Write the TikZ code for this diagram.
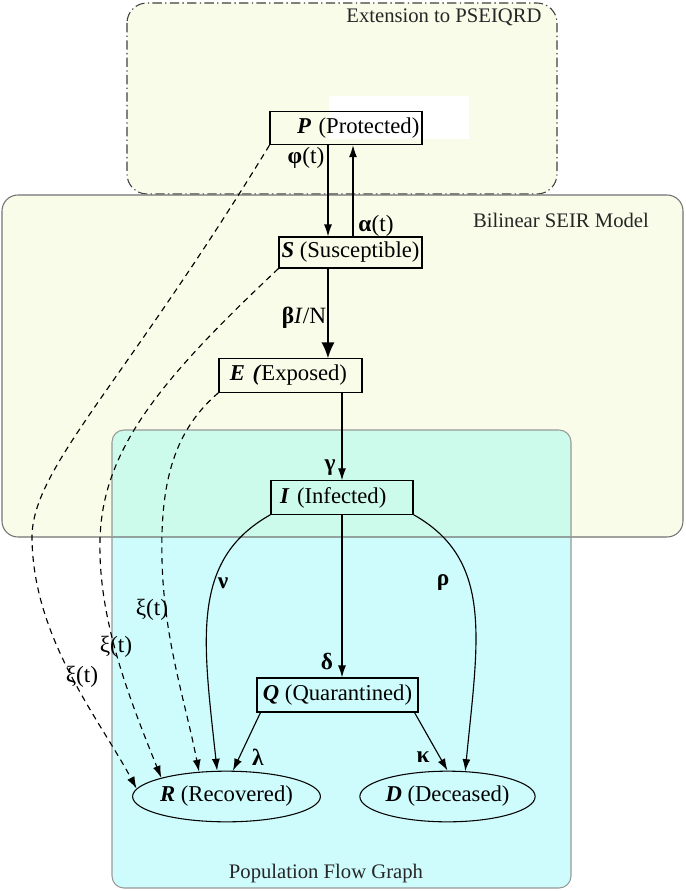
\documentclass[tikz,border=0pt]{standalone}
\usepackage{fontspec}
\setmainfont{Liberation Serif}
\usepackage{tikz}
\usetikzlibrary{shapes.geometric,arrows.meta}
\definecolor{seirfill}{RGB}{248,252,232}
\definecolor{flowfill}{RGB}{206,252,252}
\definecolor{mixfill}{RGB}{204,251,236}
\tikzset{%
  compartment/.style = {shape=rectangle, draw, line width=0.8pt,
    inner ysep=0pt, inner xsep=1.5pt, minimum height=25pt,
    font=\fontsize{17}{20}\selectfont},
  outcome/.style = {shape=ellipse, draw, line width=0.8pt, inner sep=0pt,
    minimum width=128pt, minimum height=38pt,
    font=\fontsize{17}{20}\selectfont},
  flow/.style = {draw, line width=0.85pt, -{Latex[length=9pt,width=6pt]}},
  leak/.style = {flow, dash pattern=on 4.5pt off 3.5pt},
  rate/.style = {font=\fontsize{17.5}{20}\selectfont, inner sep=0pt},
  region/.style = {font=\fontsize{15.5}{19}\selectfont, text=black!85, inner sep=0pt}
}

\begin{document}
\begin{tikzpicture}[x=0.75pt, y=-0.75pt]
  \useasboundingbox (0,0) rectangle (685,891);

  % model regions
  \path[fill=seirfill, draw=black!75, line width=0.8pt,
    dash pattern=on 7pt off 2.5pt on 1pt off 2.5pt, rounded corners=15pt]
    (127,3) rectangle (557,194);
  \path[fill=seirfill, rounded corners=12pt] (2,195) rectangle (683,537);
  \path[fill=flowfill, rounded corners=9pt] (112,430) rectangle (571,888);
  \begin{scope}
    \clip[rounded corners=12pt] (2,195) rectangle (683,537);
    \fill[mixfill, rounded corners=9pt] (112,430) rectangle (571,888);
  \end{scope}
  \draw[black!55, line width=0.8pt, rounded corners=12pt] (2,195) rectangle (683,537);
  \draw[black!40, line width=0.8pt, rounded corners=9pt] (112,430) rectangle (571,888);
  \fill[white] (329,96) rectangle (469,139);

  \node[region] (lext) at (444,17) {Extension to PSEIQRD};
  \node[region] (lseir) at (561,220) {Bilinear SEIR Model};
  \node[region] (lpop) at (326,874) {Population Flow Graph};

  % compartments
  \node[compartment, minimum width=114pt, text width=110pt, align=right]
    (P) at (346,128) {\textbf{\textit{P}} (Protected)};
  \node[compartment, minimum width=107.25pt, minimum height=23.25pt]
    (S) at (350.5,252.5) {\textbf{\textit{S}} (Susceptible)};
  \node[compartment, minimum width=107.25pt, inner xsep=8pt, text width=91pt, align=left]
    (E) at (290.5,375.5) {\textbf{\textit{E (}}Exposed)};
  \node[compartment, minimum width=106.5pt, inner xsep=6.75pt, text width=93pt, align=left]
    (I) at (342,497.5) {\textbf{\textit{I}} (Infected)};
  \node[compartment, minimum width=120.75pt, minimum height=25.5pt]
    (Q) at (337.5,695) {\textbf{\textit{Q}} (Quarantined)};
  \node[outcome] (R) at (226.5,796.5) {\textbf{\textit{R}} (Recovered)};
  \node[outcome] (D) at (447.5,796.5) {\textbf{\textit{D}} (Deceased)};

  % flows
  \coordinate (p1) at ([xshift=-13.5pt]P.south);
  \coordinate (a1) at ([xshift=5.25pt]P.south);
  \coordinate (b1) at ([xshift=-16.9pt]S.south);
  \draw[flow] (p1) -- (p1 |- S.north);
  \draw[flow] (a1 |- S.north) -- (a1);
  \draw[flow, line width=1.5pt, -{Latex[length=12pt,width=10pt]}] (b1) -- (b1 |- E.north);
  \draw[flow] (I.north |- E.south) -- (I.north);
  \draw[flow] (I.south) -- (I.south |- Q.north);
  \draw[flow] (I.south west) .. controls (190,560) and (203,640) .. (R.110);
  \draw[flow] (I.south east) .. controls (494,560) and (478,640) .. (D.55);
  \draw[flow] ([xshift=3pt]Q.south west) -- (R.76);
  \draw[flow] ([xshift=-3pt]Q.south east) -- (D.north);

  % direct recovery
  \draw[leak] (P.south west) .. controls (120,390) and (30,470) .. (32,540)
    .. controls (34,640) and (100,720) .. (R.175);
  \draw[leak] (S.south west) .. controls (160,380) and (102,450) .. (100,540)
    .. controls (98,620) and (130,700) .. (R.164);
  \draw[leak] (E.south west) .. controls (175,430) and (160,480) .. (162,560)
    .. controls (164,640) and (185,700) .. (R.138);

  % rates
  \node[rate] (lphi) at (306,158) {\textbf{φ}(t)};
  \node[rate] (lalpha) at (376,226) {\textbf{α}(t)};
  \node[rate] (lbeta) at (304,318) {\textbf{β}\textit{I}/N};
  \node[rate] (lgamma) at (330,468) {\textbf{γ}};
  \node[rate] (lnu) at (223,583) {\textbf{ν}};
  \node[rate] (lrho) at (443,583) {\textbf{ρ}};
  \node[rate] (ldelta) at (327,662) {\textbf{δ}};
  \node[rate] (llambda) at (258,757) {\textbf{λ}};
  \node[rate] (lkappa) at (423,757) {\textbf{κ}};
  \node[rate] (lxi1) at (152,610) {ξ(t)};
  \node[rate] (lxi2) at (116,647) {ξ(t)};
  \node[rate] (lxi3) at (82,677) {ξ(t)};
\end{tikzpicture}
\end{document}
